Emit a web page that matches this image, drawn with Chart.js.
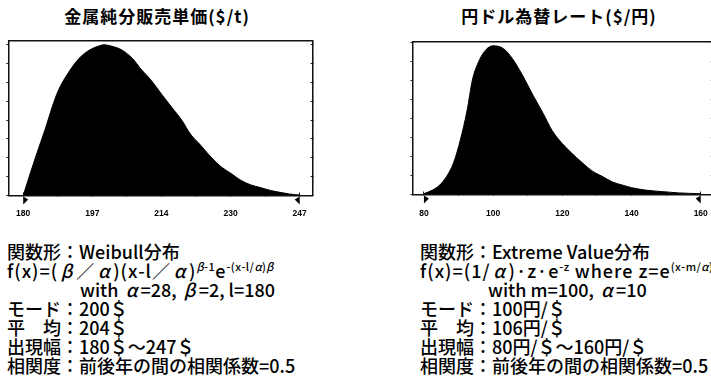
<!DOCTYPE html>
<html>
<head>
<meta charset="utf-8">
<script src="https://cdn.jsdelivr.net/npm/chart.js@4/dist/chart.umd.min.js"></script>
<style>
  html, body { margin: 0; padding: 0; background: #fff; }
  body { width: 711px; height: 388px; overflow: hidden; position: relative; }
  .title { position: absolute; top: 4px; font-family: "Noto Sans CJK JP"; font-weight: 700;
           font-size: 17px; letter-spacing: 1px; line-height: 24px; white-space: nowrap;
           transform: translateX(-50%); color: #000; }
  .box { position: absolute; }
  .note { position: absolute; top: 242px; font-family: "Noto Sans CJK JP"; font-size: 18px;
          font-weight: 500; line-height: 19px; white-space: nowrap; color: #000; }
  .note .ind { padding-left: 73px; }
  .note.r .ind { padding-left: 68px; }
  .note .fx { letter-spacing: 1px; }
  .note sup { font-size: 11px; vertical-align: 7px; line-height: 0; letter-spacing: 0.5px; }
  .note .g { display: inline-block; width: 1em; text-align: center; font-style: italic; }
  .note sup .g { width: auto; }
</style>
</head>
<body>
<div class="title" style="left:157px">金属純分販売単価($/t)</div>
<div class="title" style="left:559px">円ドル為替レート($/円)</div>

<div class="box" style="left:0;top:40px;width:330px;height:185px">
  <canvas id="priceChart" width="330" height="185"></canvas>
</div>
<div class="box" style="left:380px;top:40px;width:345px;height:185px">
  <canvas id="yenChart" width="345" height="185"></canvas>
</div>

<div class="note" style="left:7px">
  <div>関数形：Weibull分布</div>
  <div class="fx">f(x)=(<span class="g">β</span>／<span class="g">α</span>)(x-l／<span class="g">α</span>)<sup><i>β</i>-1</sup>e<sup>-(x-l/<i>α</i>)<i>β</i></sup></div>
  <div class="ind">with <span class="g">α</span>=28, <span class="g">β</span>=2, l=180</div>
  <div>モード：200＄</div>
  <div>平　均：204＄</div>
  <div>出現幅：180＄～247＄</div>
  <div>相関度：前後年の間の相関係数=0.5</div>
</div>
<div class="note r" style="left:420px">
  <div>関数形：Extreme Value分布</div>
  <div class="fx">f(x)=(1/<span class="g">α</span>)·z·e<sup>-z</sup> where z=e<sup>(x-m/<i>α</i>)</sup></div>
  <div class="ind">with m=100, <span class="g">α</span>=10</div>
  <div>モード：100円/＄</div>
  <div>平　均：106円/＄</div>
  <div>出現幅：80円/＄～160円/＄</div>
  <div>相関度：前後年の間の相関係数=0.5</div>
</div>

<script>
// ---- Metal net unit sales price ($/t), Weibull density ----
const priceX = [180, 183, 185.5, 187, 188.5, 191, 193.5, 196, 198.5, 199.5, 201.5, 204, 206.5, 208.5,
                211, 213.5, 216, 218.5, 220.5, 223, 225.5, 228, 230.5, 232.5, 235, 237.5, 240, 242.5,
                244.5, 247];
const priceDensity = [0, 0.0078, 0.0139, 0.0179, 0.0213, 0.0250, 0.0278, 0.0295, 0.0304, 0.0306,
                      0.0303, 0.0295, 0.0278, 0.0257, 0.0234, 0.0206, 0.0179, 0.0152, 0.0125, 0.0102,
                      0.0078, 0.0058, 0.0044, 0.0032, 0.0022, 0.0016, 0.0010, 0.0006, 0.0003, 0.0001];
const priceTicks = [180, 188.375, 196.75, 205.125, 213.5, 221.875, 230.25, 238.625, 247];
const priceTickLabels = ['180', '', '197', '', '214', '', '230', '', '247'];
const priceRange = [180, 247];
const priceAxis = [176.4, 250.1];
const priceYMax = 0.03137;
const priceYStep = 0.003828;

// ---- Yen/dollar exchange rate (yen/$), extreme value density ----
const yenX = [80, 82.5, 84.5, 86.5, 88.5, 90.5, 92.5, 94, 96, 98, 100, 103, 105.5, 108.5, 111.5,
              114.5, 117, 120, 123, 126, 128.5, 131.5, 134.5, 137.5, 140, 144, 149, 153.5, 160];
const yenDensity = [0.0002, 0.0011, 0.0023, 0.0044, 0.0077, 0.0134, 0.0209, 0.0283, 0.0332, 0.0359,
                    0.0368, 0.0361, 0.0337, 0.0295, 0.0246, 0.0200, 0.0159, 0.0126, 0.0100, 0.0077,
                    0.0059, 0.0045, 0.0031, 0.0023, 0.0017, 0.0011, 0.0007, 0.0004, 0.0002];
const yenTicks = [80, 90, 100, 110, 120, 130, 140, 150, 160];
const yenTickLabels = ['80', '', '100', '', '120', '', '140', '', '160'];
const yenRange = [80, 160];
const yenAxis = [76.7, 163.5];
const yenYMax = 0.03774;
const yenYStep = 0.00469;

// small flags under the axis marking both ends of the range
const rangeMarks = {
  id: 'rangeMarks',
  afterDraw(chart, args, opts) {
    const { ctx, chartArea, scales } = chart;
    const y = chartArea.bottom;
    ctx.save();
    ctx.fillStyle = '#000';
    let x = scales.x.getPixelForValue(opts.range[0]);
    ctx.beginPath(); ctx.moveTo(x, y + 1); ctx.lineTo(x, y + 9); ctx.lineTo(x + 5, y + 4); ctx.closePath(); ctx.fill();
    x = scales.x.getPixelForValue(opts.range[1]);
    ctx.beginPath(); ctx.moveTo(x, y + 1); ctx.lineTo(x, y + 9); ctx.lineTo(x - 5, y + 4); ctx.closePath(); ctx.fill();
    ctx.restore();
  }
};

function yTicksUpTo(max, step) {
  const out = [];
  for (let v = 0; v <= max + 1e-9; v += step) out.push({ value: v });
  return out;
}

function buildChart(id, xs, ys, ticks, labels, range, axis, yMax, yStep, box) {
  const border = { display: true, color: '#111', width: 1.5 };
  const hiddenTicks = { display: false };
  return new Chart(document.getElementById(id), {
    type: 'line',
    data: {
      datasets: [{
        data: xs.map((x, i) => ({ x, y: ys[i] })),
        fill: 'origin',
        backgroundColor: '#000',
        borderColor: '#000',
        borderWidth: 1,
        pointRadius: 0,
        cubicInterpolationMode: 'monotone'
      }]
    },
    plugins: [rangeMarks],
    options: {
      responsive: false,
      animation: false,
      devicePixelRatio: 1,
      layout: { padding: 0 },
      plugins: { legend: { display: false }, tooltip: { enabled: false }, rangeMarks: { range } },
      scales: {
        x: {
          type: 'linear', position: 'bottom', min: axis[0], max: axis[1],
          afterBuildTicks: s => { s.ticks = ticks.map(v => ({ value: v })); },
          afterFit: s => { s.height = box.bottom; },
          ticks: {
            autoSkip: false, maxRotation: 0, padding: box.labelPad, color: '#000',
            font: { family: 'Liberation Sans', weight: 'bold', size: 8.5 },
            callback: (v, i) => labels[i]
          },
          grid: { drawOnChartArea: false, tickLength: -3, color: '#222', lineWidth: 1 },
          border
        },
        x2: {
          type: 'linear', position: 'top', min: axis[0], max: axis[1],
          afterFit: s => { s.height = box.top; },
          ticks: hiddenTicks,
          grid: { drawOnChartArea: false, drawTicks: false },
          border
        },
        y: {
          type: 'linear', position: 'left', min: 0, max: yMax,
          afterBuildTicks: s => { s.ticks = yTicksUpTo(yMax, yStep); },
          afterFit: s => { s.width = box.left; },
          ticks: hiddenTicks,
          grid: { drawOnChartArea: false, tickLength: 2, color: '#222', lineWidth: 1 },
          border
        },
        y2: {
          type: 'linear', position: 'right', min: 0, max: yMax,
          afterBuildTicks: s => { s.ticks = yTicksUpTo(yMax, yStep); },
          afterFit: s => { s.width = box.right; },
          ticks: hiddenTicks,
          grid: { drawOnChartArea: false, tickLength: -2, color: '#222', lineWidth: 1 },
          border
        }
      }
    }
  });
}

buildChart('priceChart', priceX, priceDensity, priceTicks, priceTickLabels, priceRange, priceAxis,
           priceYMax, priceYStep, { left: 5.5, right: 17.5, top: 1, bottom: 29.5, labelPad: 15.7 });
buildChart('yenChart', yenX, yenDensity, yenTicks, yenTickLabels, yenRange, yenAxis,
           yenYMax, yenYStep, { left: 32.5, right: 11, top: 2, bottom: 30.5, labelPad: 16.7 });
</script>
</body>
</html>
